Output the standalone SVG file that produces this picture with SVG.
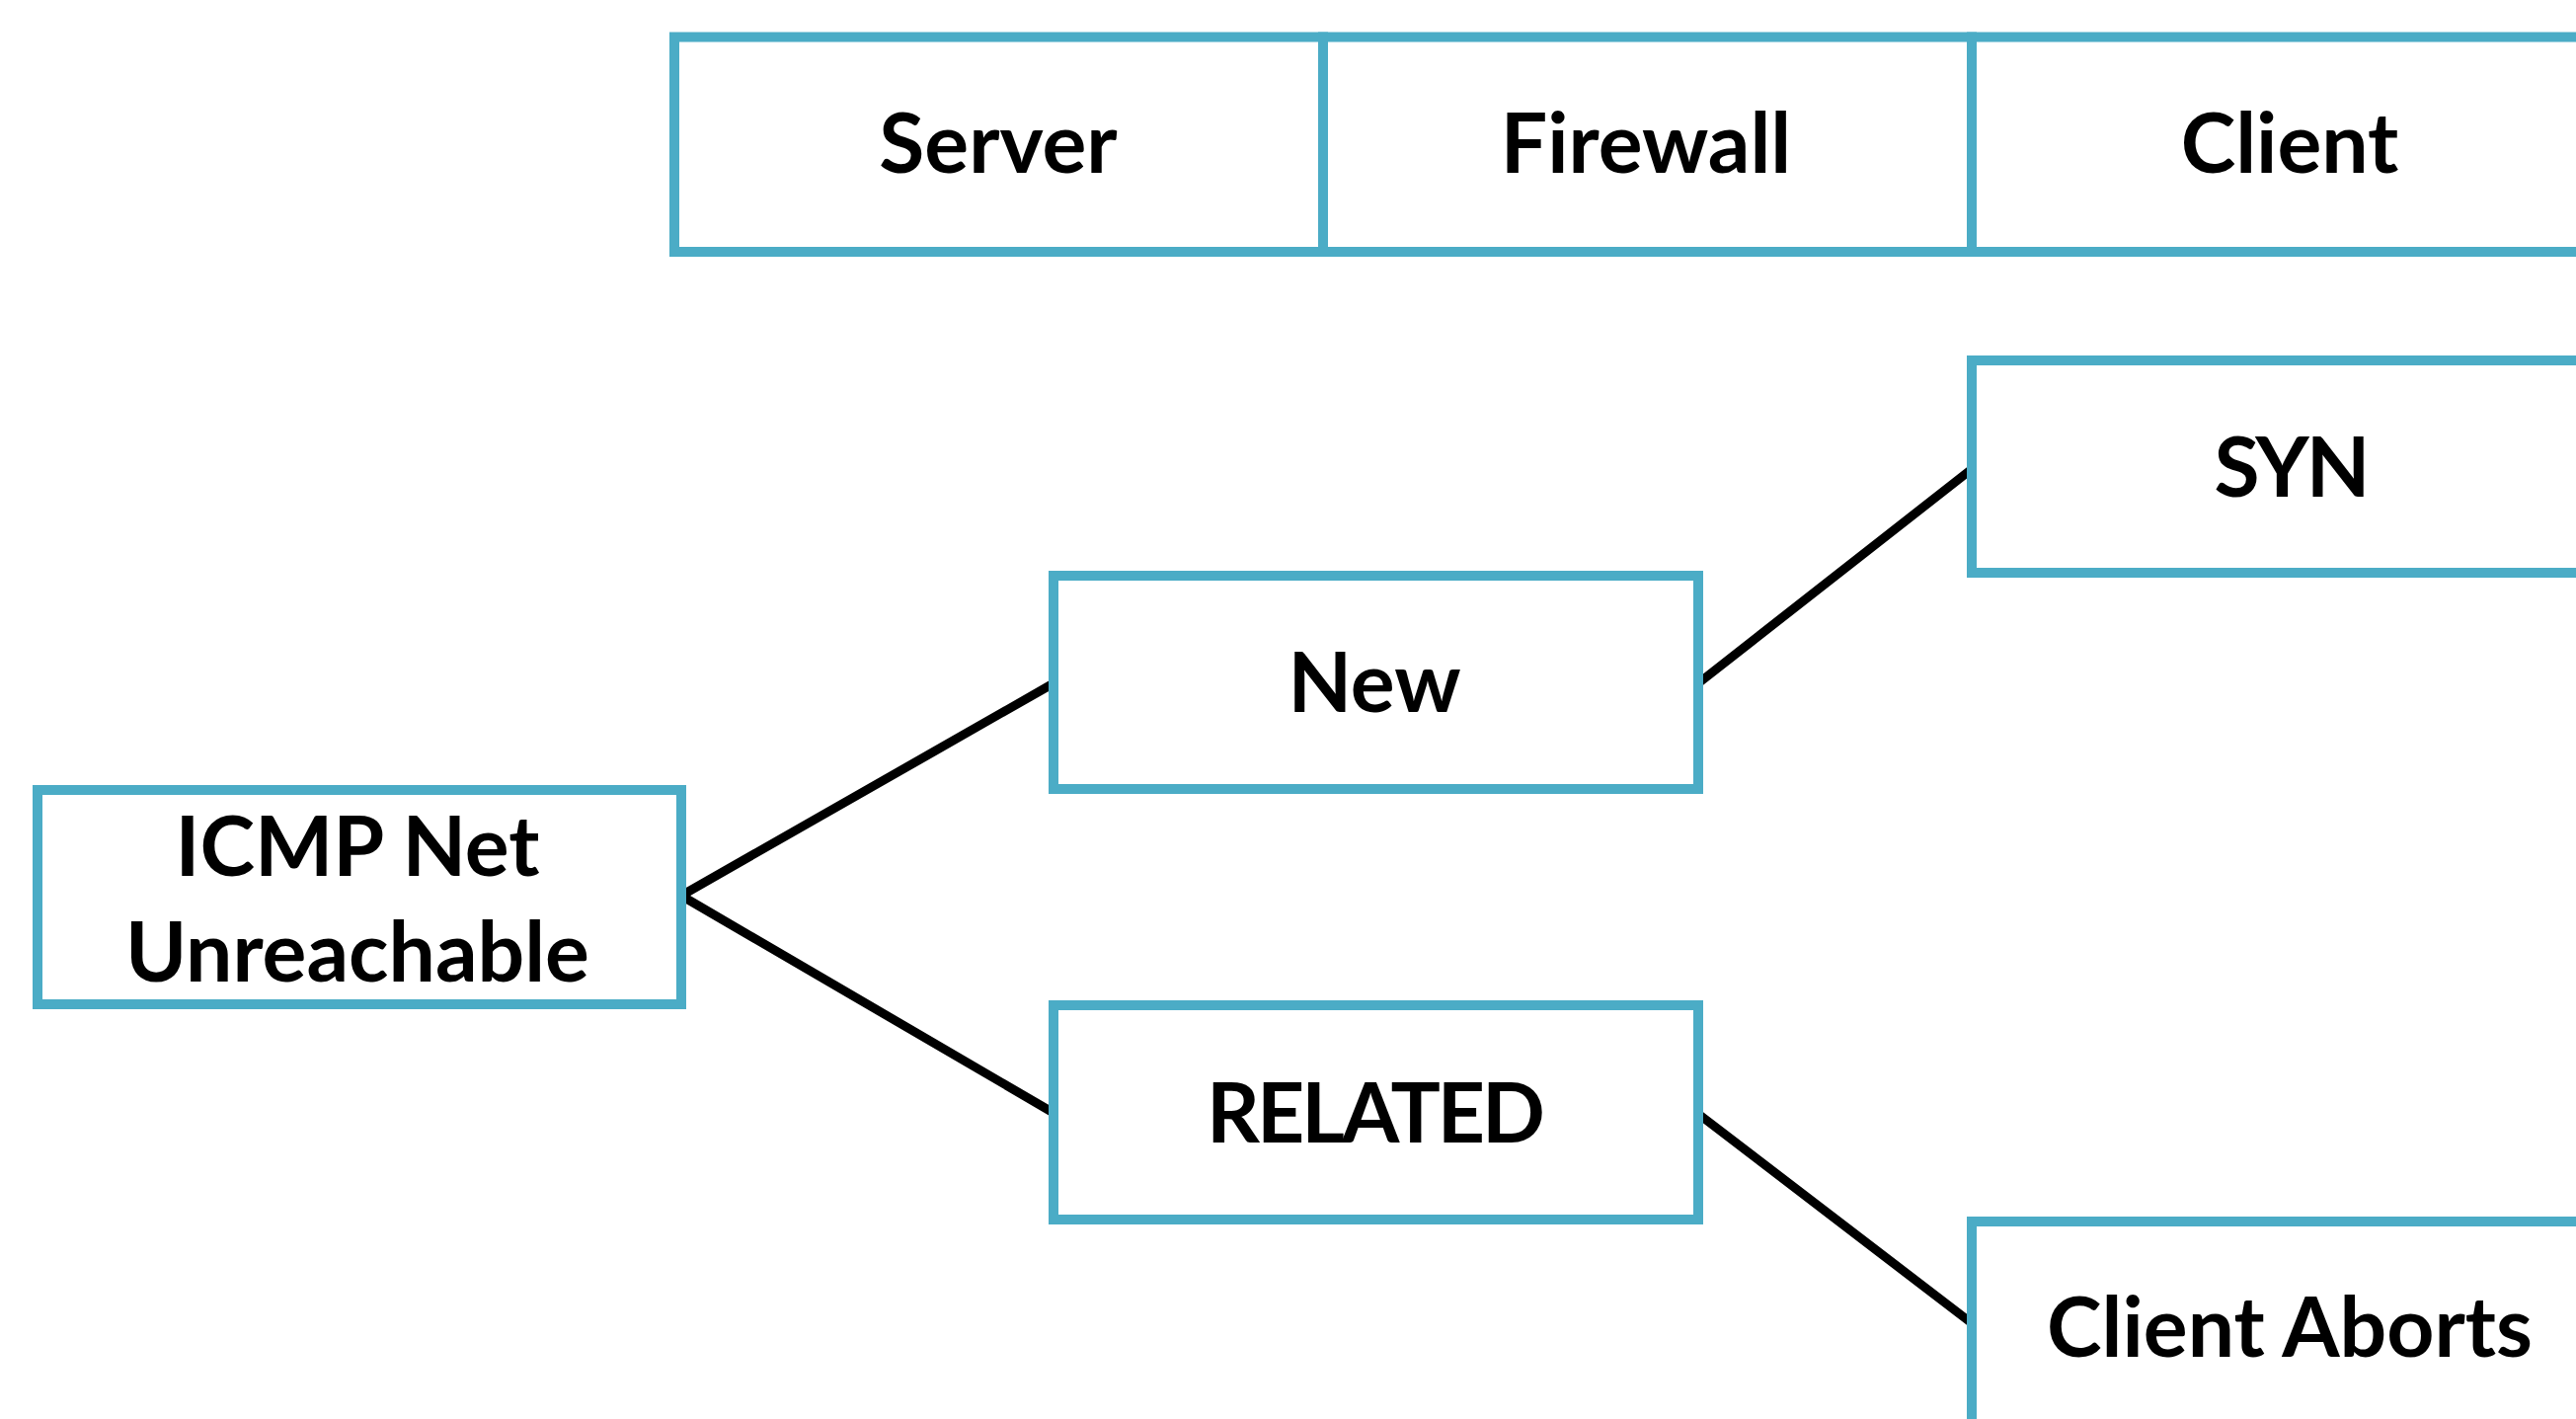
<svg xmlns="http://www.w3.org/2000/svg" width="2609" height="1437" viewBox="0 0 2609 1437">
  <style>
    .box { fill: #ffffff; stroke: #4BACC6; stroke-width: 10; }
    .lbl { font-family: Lato, "Open Sans", "Liberation Sans", sans-serif; font-weight: 700; font-size: 84px; fill: #000000; text-anchor: middle; }
    .caps { letter-spacing: -3px; }
    .link { stroke: #000000; stroke-width: 9; stroke-linecap: round; fill: none; }
  </style>
  <rect width="2609" height="1437" fill="#ffffff"/>

  <!-- column header row -->
  <g id="server">
    <rect class="box" x="683" y="37.5" width="657" height="217.5"/>
    <text class="lbl" x="1011" y="175">Server</text>
  </g>
  <g id="firewall">
    <rect class="box" x="1340" y="37.5" width="657" height="217.5"/>
    <text class="lbl" x="1667" y="175">Firewall</text>
  </g>
  <g id="client">
    <rect class="box" x="1997" y="37.5" width="657" height="217.5"/>
    <text class="lbl" x="2319" y="175">Client</text>
  </g>

  <!-- connectors -->
  <g id="connectors">
    <line class="link" x1="690" y1="907" x2="1067" y2="692"/>
    <line class="link" x1="690" y1="907" x2="1067" y2="1127"/>
    <line class="link" x1="1720" y1="692" x2="1997" y2="475"/>
    <line class="link" x1="1720" y1="1128" x2="1997" y2="1340"/>
  </g>

  <!-- state nodes -->
  <g id="icmp">
    <rect class="box" x="38" y="800" width="652" height="217"/>
    <text class="lbl" x="362" y="887">ICMP Net</text>
    <text class="lbl" x="362" y="994">Unreachable</text>
  </g>
  <g id="new">
    <rect class="box" x="1067" y="583" width="653" height="216"/>
    <text class="lbl" x="1392" y="721">New</text>
  </g>
  <g id="related">
    <rect class="box" x="1067" y="1018" width="653" height="217"/>
    <text class="lbl caps" x="1392" y="1157">RELATED</text>
  </g>
  <g id="syn">
    <rect class="box" x="1997" y="365" width="657" height="215"/>
    <text class="lbl caps" x="2320" y="503">SYN</text>
  </g>
  <g id="client-aborts">
    <rect class="box" x="1997" y="1237" width="657" height="217"/>
    <text class="lbl" x="2319" y="1374">Client Aborts</text>
  </g>
</svg>
